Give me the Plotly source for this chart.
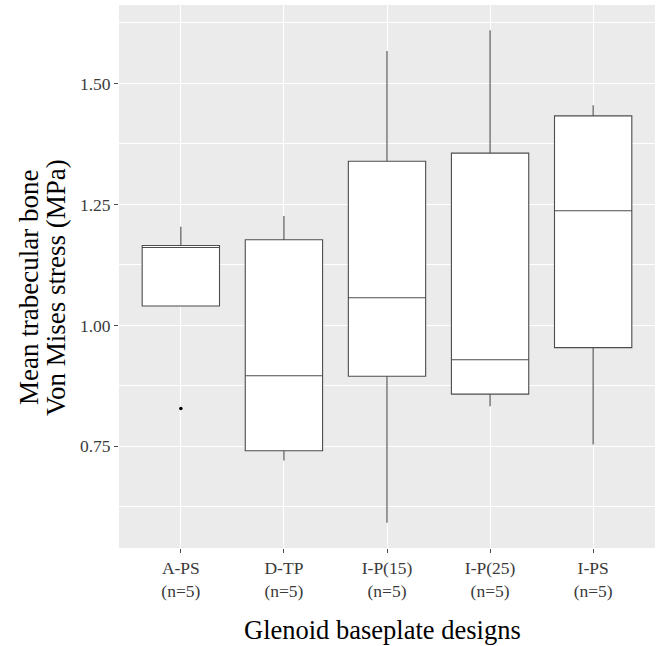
import plotly.graph_objects as go

categories = ["A-PS", "D-TP", "I-P(15)", "I-P(25)", "I-PS"]
tick_labels = ["A-PS<br>(n=5)", "D-TP<br>(n=5)", "I-P(15)<br>(n=5)", "I-P(25)<br>(n=5)", "I-PS<br>(n=5)"]
a_ps = [0.828, 1.040, 1.161, 1.165, 1.204]
d_tp = [0.721, 0.741, 0.896, 1.177, 1.226]
i_p15 = [0.592, 0.895, 1.057, 1.339, 1.567]
i_p25 = [0.833, 0.858, 0.929, 1.356, 1.610]
i_ps = [0.754, 0.954, 1.237, 1.433, 1.455]
series = [a_ps, d_tp, i_p15, i_p25, i_ps]
y_ticks = [0.75, 1.00, 1.25, 1.50]
y_tick_text = ["0.75", "1.00", "1.25", "1.50"]
y_minor = [0.625, 0.875, 1.125, 1.375, 1.625]

xs, ys = [], []
for c, vals in zip(categories, series):
    xs += [c] * len(vals)
    ys += vals

FONT = "Liberation Serif"
L, R, T, B = 119, 1, 5, 98
W, H = 656, 646
PW = W - L - R
PH = H - T - B


def px_to_paper_x(px):
    return (px - L) / PW


def px_to_paper_y(py):
    return (H - B - py) / PH


fig = go.Figure()
fig.add_trace(go.Box(
    x=xs, y=ys,
    quartilemethod="inclusive",
    boxpoints="outliers",
    width=0.75,
    whiskerwidth=0,
    fillcolor="white",
    line=dict(color="#4d4d4d", width=1.1),
    marker=dict(color="black", size=3.5),
    showlegend=False,
    hoverinfo="y",
))

fig.update_layout(
    width=W, height=H,
    margin=dict(l=L, r=R, t=T, b=B),
    paper_bgcolor="white",
    plot_bgcolor="#EBEBEB",
    font=dict(family=FONT, color="#3a3a3a"),
    xaxis=dict(
        type="category",
        categoryorder="array", categoryarray=categories,
        tickmode="array", tickvals=categories, ticktext=tick_labels,
        range=[-0.6, 4.6],
        showgrid=True, gridcolor="white", gridwidth=1.1,
        ticks="outside", ticklen=4, tickcolor="#4D4D4D", tickwidth=1,
        tickfont=dict(size=17.5, color="#3a3a3a", family=FONT),
        zeroline=False, showline=False,
    ),
    yaxis=dict(
        range=[0.540, 1.662],
        tickmode="array", tickvals=y_ticks, ticktext=y_tick_text,
        showgrid=True, gridcolor="white", gridwidth=1.1,
        minor=dict(tickmode="array", tickvals=y_minor,
                   showgrid=True, gridcolor="white", gridwidth=0.55, ticks=""),
        ticks="outside", ticklen=4, tickcolor="#4D4D4D", tickwidth=1,
        tickfont=dict(size=17.5, color="#3a3a3a", family=FONT),
        zeroline=False, showline=False,
    ),
    annotations=[
        dict(text="Mean trabecular bone",
             xref="paper", yref="paper", x=px_to_paper_x(29), y=px_to_paper_y(288),
             xanchor="center", yanchor="middle", textangle=-90, showarrow=False,
             font=dict(family=FONT, size=27, color="black")),
        dict(text="Von Mises stress (MPa)",
             xref="paper", yref="paper", x=px_to_paper_x(56), y=px_to_paper_y(288),
             xanchor="center", yanchor="middle", textangle=-90, showarrow=False,
             font=dict(family=FONT, size=27, color="black")),
        dict(text="Glenoid baseplate designs",
             xref="paper", yref="paper", x=px_to_paper_x(382), y=px_to_paper_y(630),
             xanchor="center", yanchor="middle", showarrow=False,
             font=dict(family=FONT, size=26.5, color="black")),
    ],
)

fig.write_html("out.html", config={"displayModeBar": False},
               post_script="document.body.style.margin='0';")
